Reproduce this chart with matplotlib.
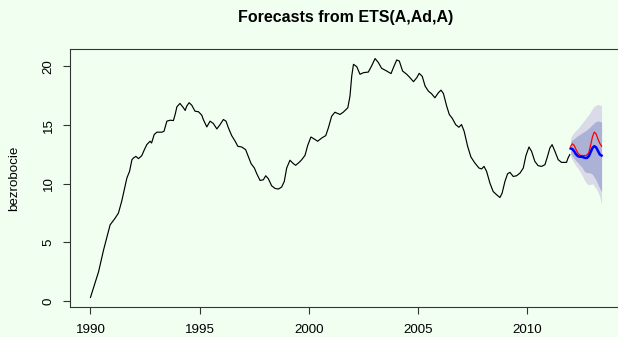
#!/usr/bin/env python3
import numpy as np
import matplotlib.pyplot as plt

plt.rcParams['font.family'] = ['Liberation Sans', 'DejaVu Sans']

# nezaměstnanost, čas v letech
t_hist = [
    1990.00, 1990.37, 1990.60, 1990.90, 1991.13, 1991.28, 1991.43, 1991.56,
    1991.67, 1991.79, 1991.90, 1991.97, 1992.08, 1992.20, 1992.35, 1992.47,
    1992.58, 1992.73, 1992.80, 1992.92, 1993.04, 1993.27, 1993.37, 1993.50,
    1993.65, 1993.80, 1993.88, 1993.96, 1994.10, 1994.26, 1994.34, 1994.41,
    1994.52, 1994.64, 1994.79, 1994.95, 1995.10, 1995.17, 1995.33, 1995.48,
    1995.63, 1995.79, 1995.94, 1996.09, 1996.21, 1996.32, 1996.47, 1996.63,
    1996.75, 1996.93, 1997.11, 1997.23, 1997.36, 1997.51, 1997.62, 1997.77,
    1997.92, 1998.03, 1998.15, 1998.30, 1998.46, 1998.61, 1998.76, 1998.88,
    1998.99, 1999.14, 1999.30, 1999.40, 1999.56, 1999.68, 1999.83, 1999.95,
    2000.10, 2000.26, 2000.41, 2000.60, 2000.78, 2000.90, 2001.05, 2001.20,
    2001.43, 2001.58, 2001.79, 2001.89, 2001.97, 2002.05, 2002.20, 2002.35,
    2002.51, 2002.73, 2002.88, 2003.04, 2003.19, 2003.34, 2003.57, 2003.77,
    2003.88, 2004.03, 2004.15, 2004.30, 2004.49, 2004.64, 2004.80, 2004.95,
    2005.06, 2005.20, 2005.33, 2005.48, 2005.63, 2005.78, 2005.94, 2006.06,
    2006.17, 2006.32, 2006.44, 2006.58, 2006.73, 2006.88, 2007.00, 2007.12,
    2007.28, 2007.43, 2007.61, 2007.80, 2007.92, 2008.03, 2008.15, 2008.30,
    2008.45, 2008.61, 2008.76, 2008.86, 2008.99, 2009.11, 2009.22, 2009.37,
    2009.52, 2009.68, 2009.83, 2009.95, 2010.09, 2010.21, 2010.36, 2010.51,
    2010.67, 2010.82, 2010.94, 2011.05, 2011.15, 2011.28, 2011.43, 2011.58,
    2011.81, 2011.88, 2011.96,
]
bezrobocie = [
    0.32, 2.50, 4.36, 6.50, 7.07, 7.50, 8.50, 9.60,
    10.50, 11.05, 12.05, 12.19, 12.33, 12.14, 12.39, 12.90,
    13.33, 13.62, 13.47, 14.19, 14.39, 14.39, 14.47, 15.33,
    15.41, 15.38, 15.90, 16.55, 16.84, 16.47, 16.24, 16.61,
    16.90, 16.69, 16.18, 16.13, 15.84, 15.47, 14.84, 15.33,
    15.13, 14.67, 15.04, 15.47, 15.33, 14.76, 14.10, 13.62,
    13.19, 13.13, 12.90, 12.33, 11.71, 11.34, 10.85, 10.28,
    10.34, 10.68, 10.43, 9.83, 9.60, 9.55, 9.72, 10.20,
    11.34, 12.00, 11.71, 11.57, 11.82, 12.05, 12.42, 13.25,
    13.98, 13.80, 13.62, 13.90, 14.10, 14.76, 15.75, 16.09,
    15.90, 16.09, 16.47, 17.46, 19.17, 20.17, 19.97, 19.32,
    19.46, 19.51, 20.03, 20.66, 20.32, 19.83, 19.60, 19.38,
    19.89, 20.54, 20.45, 19.60, 19.32, 19.03, 18.69, 19.03,
    19.40, 19.15, 18.32, 17.89, 17.66, 17.32, 17.75, 17.97,
    17.69, 16.61, 15.90, 15.56, 15.04, 14.81, 15.04, 14.47,
    13.19, 12.28, 11.77, 11.34, 11.26, 11.48, 11.05, 10.06,
    9.34, 9.06, 8.83, 9.20, 10.20, 10.85, 10.97, 10.62,
    10.68, 10.91, 11.34, 12.39, 13.13, 12.76, 11.90, 11.54,
    11.48, 11.62, 12.33, 13.05, 13.33, 12.76, 12.05, 11.82,
    11.82, 12.19, 12.48,
]

# předpověď ETS na 18 měsíců dopředu
t_fc = [2012 + m / 12 for m in range(18)]
predpoved = [13.00, 12.95, 12.75, 12.50, 12.35, 12.30, 12.30, 12.25, 12.20,
             12.20, 12.35, 12.70, 13.05, 13.20, 13.10, 12.80, 12.50, 12.40]
skutecnost = [13.20, 13.40, 13.25, 12.90, 12.60, 12.45, 12.40, 12.40, 12.40,
              12.45, 12.65, 13.30, 14.00, 14.40, 14.25, 13.80, 13.45, 13.20]
horni80 = [13.60, 13.75, 13.85, 14.00, 14.10, 14.20, 14.30, 14.40, 14.50,
           14.60, 14.75, 14.90, 15.05, 15.20, 15.30, 15.35, 15.30, 15.25]
dolni80 = [12.60, 12.35, 12.15, 11.95, 11.80, 11.60, 11.45, 11.20, 11.00,
           10.95, 10.95, 10.90, 10.80, 10.55, 10.30, 9.95, 9.60, 9.35]
horni95 = [13.95, 14.20, 14.40, 14.55, 14.70, 14.90, 15.10, 15.30, 15.50,
           15.70, 15.90, 16.15, 16.40, 16.60, 16.70, 16.75, 16.70, 16.65]
dolni95 = [12.30, 12.00, 11.75, 11.50, 11.30, 11.05, 10.80, 10.50, 10.20,
           10.00, 9.90, 9.95, 10.00, 9.80, 9.60, 9.30, 8.90, 8.20]

fig = plt.figure(figsize=(6.18, 3.37), dpi=100, facecolor='#F1FFF1')
ax = fig.add_axes([0.1133, 0.089, 0.8932, 0.7656], facecolor='#F1FFF1')

# intervaly spolehlivosti
ax.fill_between(t_fc, dolni95, horni95, color='#DADAE8', lw=0)
ax.fill_between(t_fc, dolni80, horni80, color='#ACB2D6', lw=0)

ax.plot(t_hist, bezrobocie, color='black', lw=0.85)
ax.plot(t_fc, skutecnost, color='#FF0000', lw=0.9)
ax.plot(t_fc, predpoved, color='#0000FF', lw=1.8)

# rozsah os jako v R (4 % okraj)
x0, x1 = t_hist[0], t_fc[-1]
y0, y1 = min(bezrobocie), max(bezrobocie)
ax.set_xlim(x0 - 0.04 * (x1 - x0), x1 + 0.04 * (x1 - x0))
ax.set_ylim(y0 - 0.04 * (y1 - y0), y1 + 0.04 * (y1 - y0))

ax.set_xticks(np.arange(1990, 2011, 5))
ax.set_yticks(np.arange(0, 21, 5))
ax.tick_params(axis='both', direction='out', length=5, width=0.8,
               color='#333333', labelsize=9.6)
ax.tick_params(axis='x', pad=7)
ax.tick_params(axis='y', pad=6)
for lab in ax.get_yticklabels():
    lab.set_rotation(90)
    lab.set_va('center')

for s in ax.spines.values():
    s.set_color('#333333')
    s.set_linewidth(0.8)

ax.set_ylabel('bezrobocie', fontsize=9.6, labelpad=16)
fig.suptitle('Forecasts from ETS(A,Ad,A)', fontsize=11.5, fontweight='bold',
             x=0.56, y=0.948, va='center')

fig.savefig('out.png', dpi=100, facecolor=fig.get_facecolor())
